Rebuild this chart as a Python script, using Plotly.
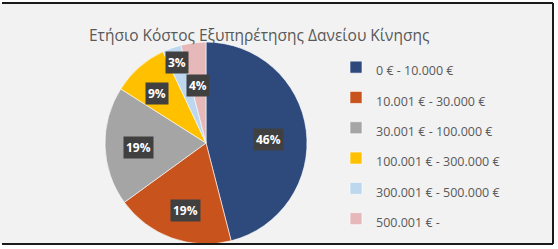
import math
import plotly.graph_objects as go

title = "Ετήσιο Κόστος Εξυπηρέτησης Δανείου Κίνησης"
categories = ["0 € - 10.000 €", "10.001 € - 30.000 €", "30.001 € - 100.000 €",
              "100.001 € - 300.000 €", "300.001 € - 500.000 €", "500.001 € -"]
shares = [46, 19, 19, 9, 3, 4]
colors = ["#2E4A7D", "#C8531C", "#A5A5A5", "#FFC000", "#BDD7EE", "#E6B8B9"]
# radial placement / angular nudge of each data label (style)
label_r = [0.62, 0.70, 0.67, 0.69, 0.85, 0.58]
label_da = [4, -3, -2, -3, 0, -1]

W, H = 558, 249
CX, CY, R = 206, 143, 101  # pie centre/radius in pixels (layout)

dom_x = [(CX - R) / W, (CX + R) / W]
dom_y = [(H - CY - R) / H, (H - CY + R) / H]

fig = go.Figure()
fig.add_trace(go.Pie(
    labels=[f'<span style="font-size:12.5px">{c}</span>' for c in categories],
    values=shares,
    sort=False,
    direction="clockwise",
    rotation=0,
    marker=dict(colors=colors, line=dict(color="white", width=0.6)),
    textinfo="none",
    hoverinfo="label+percent",
    domain=dict(x=dom_x, y=dom_y),
))

# data labels computed from the values
total = sum(shares)
cum = 0
annotations = []
for v, rf, da in zip(shares, label_r, label_da):
    mid = ((cum + v / 2) / total * 360 + da) * math.pi / 180
    cum += v
    px = CX + R * rf * math.sin(mid)
    py = CY - R * rf * math.cos(mid)
    pct = round(v / total * 100)
    annotations.append(dict(
        x=px / W, y=1 - py / H, xref="paper", yref="paper",
        xanchor="center", yanchor="middle",
        text=f"<b>{pct}%</b>", showarrow=False,
        font=dict(family="Open Sans", size=12, color="white"),
        bgcolor="#404040", borderpad=2,
    ))

annotations.append(dict(
    x=259 / W, y=1 - 35 / H, xref="paper", yref="paper",
    xanchor="center", yanchor="middle",
    text=title, showarrow=False,
    font=dict(family="Open Sans", size=15.5, color="#595959"),
))

shapes = [
    dict(type="rect", xref="paper", yref="paper", x0=0, x1=553 / W,
         y0=1 - 244 / H, y1=1 - 3 / H, fillcolor="#F2F2F2",
         line=dict(width=0), layer="below"),
    dict(type="line", xref="paper", yref="paper", x0=2 / W, x1=553 / W,
         y0=1 - 3 / H, y1=1 - 3 / H, line=dict(color="#1a1a1a", width=2)),
    dict(type="line", xref="paper", yref="paper", x0=2 / W, x1=553 / W,
         y0=1 - 244 / H, y1=1 - 244 / H, line=dict(color="#1a1a1a", width=2)),
    dict(type="line", xref="paper", yref="paper", x0=553 / W, x1=553 / W,
         y0=1 - 244 / H, y1=1 - 3 / H, line=dict(color="#1a1a1a", width=2)),
]

fig.update_layout(
    width=W, height=H,
    margin=dict(l=0, r=0, t=0, b=0),
    paper_bgcolor="white",
    showlegend=True,
    legend=dict(
        x=336 / W, y=1 - 47 / H, xanchor="left", yanchor="top",
        font=dict(family="Open Sans", size=21, color="#595959"),
        bgcolor="rgba(0,0,0,0)", itemclick=False,
    ),
    annotations=annotations,
    shapes=shapes,
)

fig.write_html("out.html")
